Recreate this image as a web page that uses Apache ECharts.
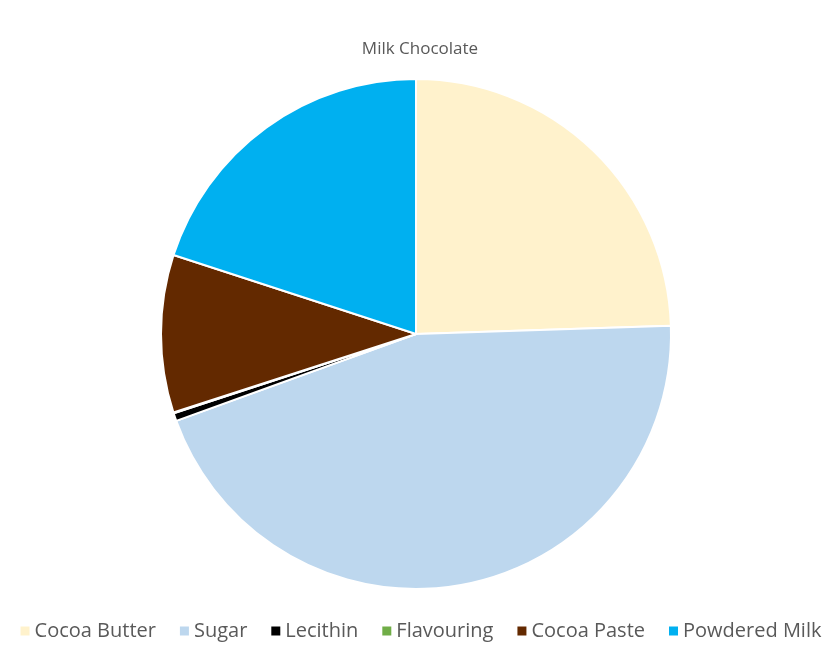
<!DOCTYPE html>
<html><head><meta charset="utf-8">
<script src="https://cdn.jsdelivr.net/npm/echarts@6/dist/echarts.min.js"></script>
<style>html,body{margin:0;padding:0;background:#fff}#c{width:840px;height:671px}</style>
</head><body><div id="c"></div>
<script>
const categories = ['Cocoa Butter','Sugar','Lecithin','Flavouring','Cocoa Paste','Powdered Milk'];
const values = [24.5, 45, 0.5, 0.05, 10, 20];
const colors = ['#FFF2CC','#BDD7EE','#000000','#70AD47','#632900','#00B0F0'];
const chart = echarts.init(document.getElementById('c'));
chart.setOption({
  backgroundColor:'#ffffff',
  animation:false,
  title:{text:'Milk Chocolate',left:'center',top:36,textStyle:{fontFamily:'Open Sans',fontSize:17,fontWeight:'normal',color:'#595959'}},
  legend:{bottom:25,left:'center',itemWidth:11,itemHeight:11,itemGap:22,icon:'rect',
    textStyle:{fontFamily:'Open Sans',fontSize:20,color:'#595959',padding:[0,0,0,-1]},
    data:categories},
  series:[{type:'pie',center:[416,334],radius:255,startAngle:90,clockwise:true,
    label:{show:false},labelLine:{show:false},
    itemStyle:{borderColor:'#ffffff',borderWidth:2},
    data:categories.map((n,i)=>({name:n,value:values[i],itemStyle:{color:colors[i]}}))}]
});
</script></body></html>
